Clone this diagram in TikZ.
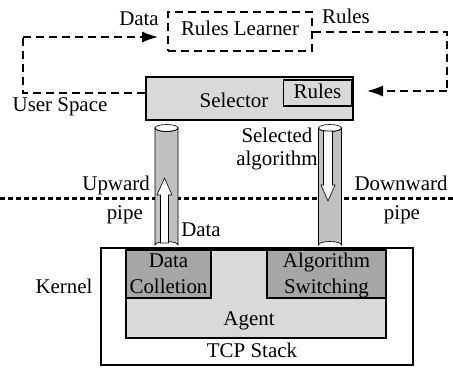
\documentclass[tikz,border=0pt]{standalone}
\usepackage{fontspec}
\setmainfont{Liberation Serif}
\usetikzlibrary{arrows.meta,positioning}
\definecolor{lightbox}{RGB}{217,217,217}
\definecolor{darkbox}{RGB}{166,166,166}
\definecolor{pipegray}{RGB}{192,192,192}
\tikzset{
  txt/.style={inner sep=0pt,font=\fontsize{21}{24}\selectfont,align=center},
  dashline/.style={line width=1.3bp,dash pattern=on 8bp off 5bp},
  bigtip/.style={-{Latex[length=16bp,width=11bp]}},
  box/.style={draw,line width=1.3bp,inner sep=0pt},
}
\begin{document}
\begin{tikzpicture}[x=1bp,y=-1bp]
		\useasboundingbox (0,0) rectangle (453,369);
		\def\pry{3.5}
		\def\prx{11.5}
		\def\ptop{128}
		\def\pbot{245}
		% user space
		\node[box,dashline,minimum width=144bp,minimum height=39bp] (learner) at (240,31.5) {};
		\node[txt] at (240,28) {Rules Learner};
		\node[box,fill=lightbox,minimum width=207bp,minimum height=43bp] (selector) at (249.5,98.5) {};
		\node[txt,anchor=base] at (234,107) {Selector};
		\node[box,minimum width=68bp,minimum height=26bp] (rules) at (317.5,93) {};
		\node[txt,anchor=base] at (317.5,98) {Rules};
		\coordinate (lc) at (23,37);
		\coordinate (rc) at (447,32);
		\draw[dashline] (selector.west |- 0,93) -- (lc |- 0,93) -- (lc);
		\draw[dashline,bigtip] (lc) -- (158,37);
		\draw[dashline] (learner.east |- rc) -- (rc) -- (447,91);
		\draw[dashline,bigtip] (447,91) -- (367,91);
		\node[txt] (datatop) at (139,19) {Data};
		\node[txt] (rulestop) at (346,16) {Rules};
		\node[txt] (userspace) at (60,107) {User Space};
		% separator
		\draw[line width=3bp,dash pattern=on 5bp off 3bp] (0,198) -- (453,198);
		% pipes
		\foreach \cx in {166.5,330}{
			\draw[fill=pipegray,line width=0.6bp] (\cx-\prx,\ptop) -- (\cx-\prx,\pbot) arc(180:0:\prx bp and \pry bp) -- (\cx+\prx,\ptop) arc(0:-180:\prx bp and \pry bp) -- cycle;
			\draw[line width=0.6bp] (\cx,\ptop) ellipse (\prx bp and \pry bp);
		}
		\draw[fill=white,line width=0.6bp] (160.5,243) -- (160.5,195) -- (157,195) -- (164.5,178) -- (172,195) -- (168.5,195) -- (168.5,243) -- cycle;
		\draw[fill=white,line width=0.6bp] (323.5,131) -- (323.5,185) -- (321,185) -- (328,201) -- (335,185) -- (332.5,185) -- (332.5,131) -- cycle;
		\node[txt,anchor=base] (selected) at (277,142) {Selected};
		\node[txt,anchor=base] (algorithm) at (277,165) {algorithm};
		\node[txt,anchor=base east] (upward) at (150,190) {Upward};
		\node[txt,anchor=base east] (uppipe) at (143,219) {pipe};
		\node[txt,anchor=base] (downward) at (401,190) {Downward};
		\node[txt,anchor=base] (downpipe) at (402,219) {pipe};
		\node[txt] (datapipe) at (201,230) {Data};
		% kernel
		\node[box,minimum width=312bp,minimum height=117bp] (tcp) at (257,306.5) {};
		\node[txt] at (252,350) {TCP Stack};
		\node[box,fill=lightbox,minimum width=260bp,minimum height=88bp] (agent) at (256,294) {};
		\node[txt] at (249,321) {Agent};
		\node[box,fill=darkbox,minimum width=85bp,minimum height=48bp] (collect) at (168.5,274) {};
		\node[txt,anchor=base] at (168.5,267) {Data};
		\node[txt,anchor=base] at (168.5,293) {Colletion};
		\node[box,fill=darkbox,minimum width=119bp,minimum height=48bp] (switch) at (326.5,274) {};
		\node[txt,anchor=base] at (326.5,267) {Algorithm};
		\node[txt,anchor=base] at (326.5,293) {Switching};
		\node[txt] (kernel) at (64,286) {Kernel};
\end{tikzpicture}
\end{document}
